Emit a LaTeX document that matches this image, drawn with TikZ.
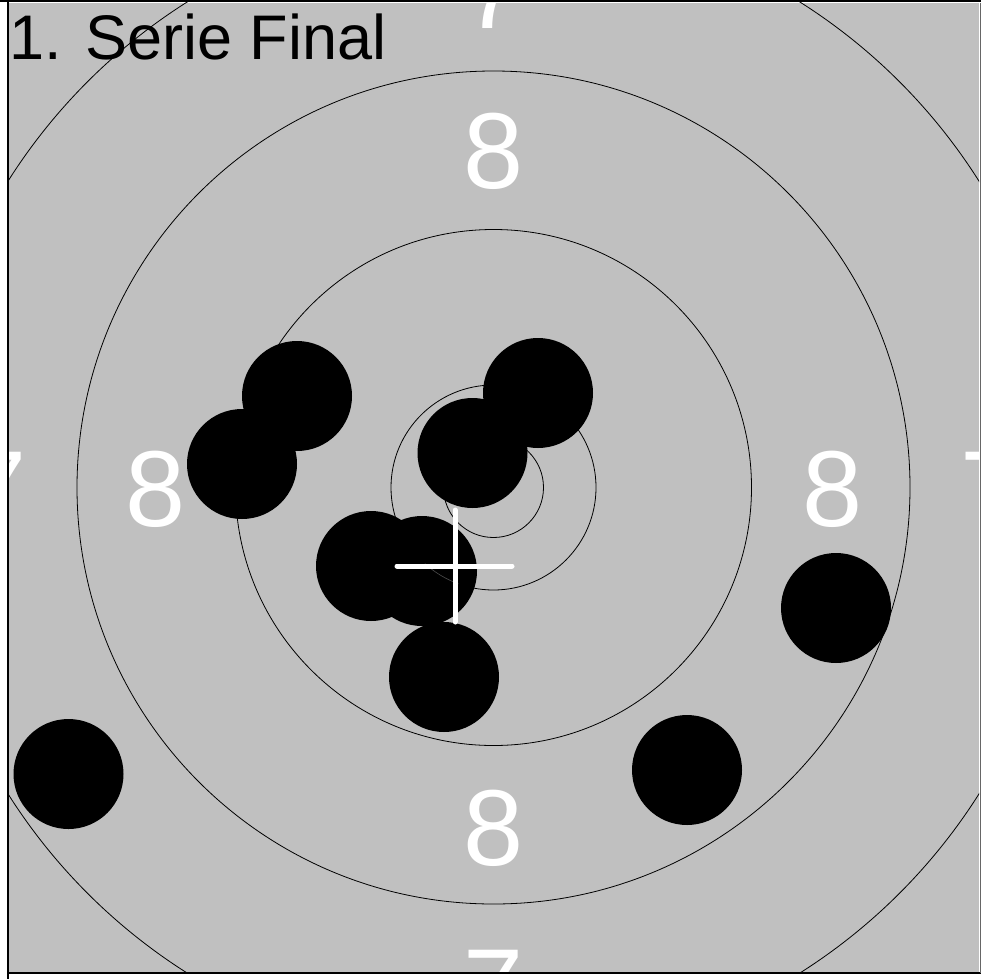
\documentclass[tikz,border=0pt]{standalone}
\usepackage{fontspec}
\setmainfont{Liberation Sans}
\begin{document}
\begin{tikzpicture}[x=1pt,y=-1pt,
  ring/.style={draw=black,line width=0.8pt},
  shot/.style={circle,fill=black,draw=none,minimum size=110pt,inner sep=0pt},
  num/.style={text=white,inner sep=0pt,anchor=base,font=\fontsize{108}{108}\selectfont},
  crossline/.style={draw=white,line width=5pt,line cap=round}]
\useasboundingbox (0,0) rectangle (981,979);
\fill[white] (0,0) rectangle (981,979);
% target background
\fill[fill={rgb,255:red,192;green,192;blue,192}] (9,3) rectangle (979,972);
\coordinate (c) at (493.5,487.5);
\begin{scope}
  \clip (9,3) rectangle (979,972);
  \draw[ring] (c) circle[radius=50pt];
  \draw[ring] (c) circle[radius=102.5pt];
  \draw[ring] (c) circle[radius=258pt];
  \draw[ring] (c) circle[radius=416.5pt];
  \draw[ring] (c) circle[radius=574pt];
  % ring numbers
  \node[num] (n8t) at (493.5,188) {8};
  \node[num] (n8b) at (493.5,865) {8};
  \node[num] (n8l) at (155.5,526) {8};
  \node[num] (n8r) at (833,526) {8};
  \node[num] (n7t) at (493.5,29) {7};
  \node[num] (n7b) at (493.5,1024) {7};
  \node[num] (n7l) at (-3.5,526) {7};
  \node[num] (n7r) at (990.5,526) {7};
  % shots
  \node[shot] (s1) at (297,396) {};
  \node[shot] (s2) at (242,464) {};
  \node[shot] (s3) at (538,393) {};
  \node[shot] (s4) at (472.5,453) {};
  \node[shot] (s5) at (371,566) {};
  \node[shot] (s6) at (422,571) {};
  \node[shot] (s7) at (444,677) {};
  \node[shot] (s8) at (836,608) {};
  \node[shot] (s9) at (687,770) {};
  \node[shot] (s10) at (68.5,774) {};
  % faint ring trace over a shot
  \draw[draw=black!70,line width=0.6pt] (c) ++(228:102.5pt) arc[start angle=228,end angle=250,radius=102.5pt];
\end{scope}
% mean point cross
\coordinate (xl) at (397,566);
\coordinate (xr) at (512,566);
\coordinate (xt) at (455,510);
\coordinate (xb) at (455,622);
\draw[crossline] (xl) -- (xr);
\draw[crossline] (xt) -- (xb);
% title
\node[anchor=base west,inner sep=0pt,font=\fontsize{63}{63}\selectfont] (title) at (9,60) {1. Serie Final};
% frame lines
\coordinate (ftl) at (0,1);
\coordinate (ftr) at (981,1);
\coordinate (flt) at (8,0);
\coordinate (flb) at (8,979);
\coordinate (fbl) at (8,973);
\coordinate (fbr) at (981,973);
\coordinate (frt) at (980.5,3);
\coordinate (frb) at (980.5,973);
\draw[black,line width=2pt] (ftl) -- (ftr);
\draw[black,line width=1.5pt] (flt) -- (flb);
\draw[black,line width=1.5pt] (fbl) -- (fbr);
\draw[black!60,line width=1pt] (frt) -- (frb);
\end{tikzpicture}
\end{document}
